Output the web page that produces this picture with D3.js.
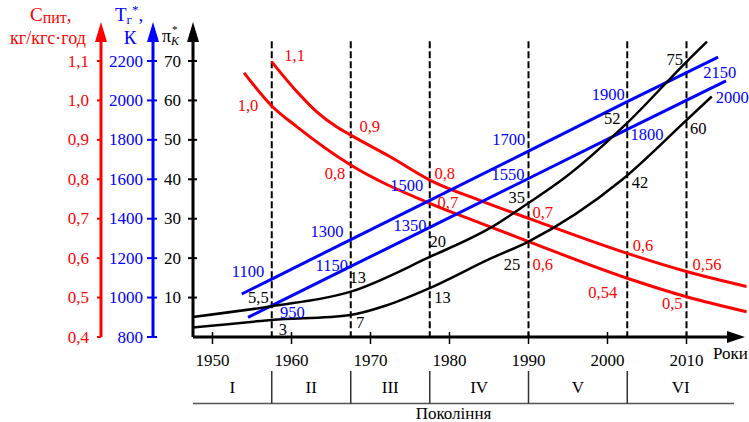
<!DOCTYPE html>
<html>
<head>
<meta charset="utf-8">
<script src="https://cdn.jsdelivr.net/npm/d3@7"></script>
<style>
  body { margin: 0; background: #fff; }
  svg text { font-family: "Liberation Serif", "DejaVu Serif", "Times New Roman", serif; }
</style>
</head>
<body>
<div id="chart"></div>
<script>
// year, value pairs
var redUpper = [[1957.5, 1.098], [1960.7, 1.022], [1963.2, 0.971], [1965.7, 0.933], [1967.5, 0.912], [1972.5, 0.857],
  [1977.5, 0.798], [1983.9, 0.746], [1990, 0.701], [2002.5, 0.612], [2010, 0.566], [2017.6, 0.528]];
var redLower = [[1954.0, 1.07], [1957.5, 0.986], [1960.7, 0.933], [1967.5, 0.836], [1977.5, 0.739], [1983.9, 0.689],
  [1990, 0.642], [2002.5, 0.549], [2010, 0.502], [2017.6, 0.464]];
var blueUpper = [[1953.7, 1018], [1957.5, 1094], [1967.5, 1294], [1977.5, 1493], [1990, 1743], [2002.5, 1994], [2014.0, 2220]];
var blueLower = [[1954.5, 900], [1957.5, 959], [1967.5, 1158], [1977.5, 1356], [1990, 1604], [2002.5, 1853], [2015.0, 2099]];
var piUpper = [[1947.5, 5.1], [1957.5, 7.8], [1967.5, 11.5], [1977.5, 20.3], [1985.1, 27.6], [1990, 34], [1994.2, 39.8],
  [2002.5, 54.3], [2010, 69.8], [2012.6, 74.9]];
var piLower = [[1947.5, 2.4], [1957.5, 4.3], [1967.5, 5.6], [1972.0, 8.0], [1977.5, 12.4], [1985.1, 19.8], [1990, 24.2],
  [2001.8, 39.8], [2010, 55], [2013.2, 61]];

var redTicks = [0.4, 0.5, 0.6, 0.7, 0.8, 0.9, 1.0, 1.1];
var blueTicks = [800, 1000, 1200, 1400, 1600, 1800, 2000, 2200];
var piTicks = [10, 20, 30, 40, 50, 60, 70];
var yearTicks = [1950, 1960, 1970, 1980, 1990, 2000, 2010];
var genBounds = [1957.5, 1967.5, 1977.5, 1990, 2002.5, 2010];
var generations = ["I", "II", "III", "IV", "V", "VI"];

// [text, year, value]
var redLabels = [["1,1", 1960.4, 1.115], ["1,0", 1954.5, 0.986], ["0,9", 1969.9, 0.933], ["0,8", 1965.5, 0.814],
  ["0,8", 1979.4, 0.814], ["0,7", 1979.8, 0.740], ["0,7", 1991.8, 0.715], ["0,6", 1991.8, 0.583],
  ["0,6", 2004.5, 0.631], ["0,54", 1999.4, 0.512], ["0,56", 2012.6, 0.583], ["0,5", 2008.2, 0.486]];
var blueLabels = [["1100", 1954.5, 1130], ["1300", 1964.5, 1333], ["1500", 1974.6, 1571], ["1700", 1987.5, 1804],
  ["1900", 2000.1, 2028], ["2150", 2014.2, 2144], ["950", 1960.1, 922], ["1150", 1965.1, 1165],
  ["1350", 1975.0, 1368], ["1550", 1987.4, 1622], ["1800", 2005.0, 1825], ["2000", 2015.8, 2017]];
var piLabels = [["5,5", 1955.8, 10.1], ["3", 1958.9, 1.8], ["13", 1968.4, 15.0], ["7", 1968.7, 3.6],
  ["20", 1978.5, 24.1], ["13", 1979.1, 10.1], ["35", 1988.5, 35.5], ["25", 1987.9, 18.3],
  ["52", 2000.6, 55.3], ["42", 2004.1, 39.1], ["75", 2008.5, 70.5], ["60", 2011.5, 52.8]];

var W = 749, H = 422;
var svg = d3.select("#chart").append("svg").attr("width", W).attr("height", H)
  .attr("font-family", "'Liberation Serif', 'DejaVu Serif', serif");

var x = d3.scaleLinear().domain([1950, 2010]).range([212.5, 686.5]);
var yC = d3.scaleLinear().domain([0.4, 1.1]).range([337, 61]);
var yT = d3.scaleLinear().domain([800, 2200]).range([337, 61]);
var yP = d3.scaleLinear().domain([0, 70]).range([337, 61]);

var axRed = 101, axBlue = 153, axBlack = 193, baseY = 337, xEnd = 745;
var comma = function (v) { return d3.format(".1f")(v).replace(".", ","); };

// dashed generation lines
svg.selectAll(".gen").data(genBounds).enter().append("line")
  .attr("x1", function (d) { return x(d); }).attr("x2", function (d) { return x(d); })
  .attr("y1", yP(75)).attr("y2", baseY)
  .attr("stroke", "#000").attr("stroke-width", 2).attr("stroke-dasharray", "7,3");

// curves
var line = function (ys, curve) {
  return d3.line().x(function (d) { return x(d[0]); }).y(function (d) { return ys(d[1]); }).curve(curve);
};
var series = [
  [redUpper, yC, "#ff0000", d3.curveMonotoneX, 3],
  [redLower, yC, "#ff0000", d3.curveMonotoneX, 3],
  [blueUpper, yT, "#0000ff", d3.curveLinear, 3],
  [blueLower, yT, "#0000ff", d3.curveLinear, 3],
  [piUpper, yP, "#000", d3.curveMonotoneX, 2.5],
  [piLower, yP, "#000", d3.curveMonotoneX, 2.5]
];
series.forEach(function (s) {
  svg.append("path").datum(s[0]).attr("d", line(s[1], s[3]))
    .attr("fill", "none").attr("stroke", s[2]).attr("stroke-width", s[4]);
});

// in-plot labels
function labels(data, ys, color) {
  svg.append("g").selectAll("text").data(data).enter().append("text")
    .attr("x", function (d) { return x(d[1]); })
    .attr("y", function (d) { return ys(d[2]); })
    .attr("text-anchor", "middle").attr("dominant-baseline", "central")
    .attr("font-size", 16.5).attr("fill", color)
    .text(function (d) { return d[0]; });
}
labels(redLabels, yC, "#ff0000");
labels(blueLabels, yT, "#0000ff");
labels(piLabels, yP, "#000");

// vertical axes
function vAxis(ax, ys, ticks, color, fmt, tx0, tx1, labelX) {
  var g = svg.append("g");
  g.append("line").attr("x1", ax).attr("x2", ax).attr("y1", baseY).attr("y2", 40)
    .attr("stroke", color).attr("stroke-width", 3);
  g.append("path").attr("d", "M" + (ax - 6) + ",42L" + ax + ",22L" + (ax + 6) + ",42Z").attr("fill", color);
  g.selectAll(".t").data(ticks).enter().append("line")
    .attr("x1", ax + tx0).attr("x2", ax + tx1)
    .attr("y1", function (d) { return ys(d); }).attr("y2", function (d) { return ys(d); })
    .attr("stroke", color).attr("stroke-width", 2);
  g.selectAll(".l").data(ticks).enter().append("text")
    .attr("x", labelX).attr("y", function (d) { return ys(d); })
    .attr("text-anchor", "end").attr("dominant-baseline", "central")
    .attr("font-size", 17).attr("fill", color)
    .text(fmt);
}
vAxis(axRed, yC, redTicks, "#ff0000", comma, -4, 0, 89);
vAxis(axBlue, yT, blueTicks, "#0000ff", function (d) { return d; }, -6, 4, 143);
vAxis(axBlack, yP, piTicks, "#000", function (d) { return d; }, -5, 4, 181);

// axis titles
var t1 = svg.append("text").attr("x", 30).attr("y", 21).attr("font-size", 19).attr("fill", "#ff0000");
t1.append("tspan").text("С");
t1.append("tspan").attr("font-size", 16).attr("dy", 2).text("пит");
t1.append("tspan").attr("dy", -2).text(",");
svg.append("text").attr("x", 48).attr("y", 44).attr("text-anchor", "middle").attr("font-size", 18)
  .attr("fill", "#ff0000").text("кг/кгс·год");
var t2 = svg.append("text").attr("x", 115).attr("y", 21).attr("font-size", 19).attr("fill", "#0000ff");
t2.append("tspan").text("Т");
t2.append("tspan").attr("font-size", 13).attr("dy", 3).text("г");
t2.append("tspan").attr("font-size", 13).attr("dy", -10).text("*");
t2.append("tspan").attr("dy", 7).text(",");
svg.append("text").attr("x", 130).attr("y", 44).attr("text-anchor", "middle").attr("font-size", 19)
  .attr("fill", "#0000ff").text("К");
svg.append("text").attr("x", 162).attr("y", 42).attr("font-size", 18).text("π");
svg.append("text").attr("x", 172).attr("y", 33).attr("font-size", 11).text("*");
svg.append("text").attr("x", 171).attr("y", 45).attr("font-size", 12).attr("font-style", "italic").text("K");

// x axis
svg.append("line").attr("x1", axBlack).attr("x2", xEnd - 10).attr("y1", baseY).attr("y2", baseY)
  .attr("stroke", "#000").attr("stroke-width", 3);
svg.append("path").attr("d", "M" + (xEnd - 18) + "," + (baseY - 6) + "L" + xEnd + "," + baseY + "L" + (xEnd - 18) + "," + (baseY + 6) + "Z");
svg.selectAll(".xt").data(yearTicks).enter().append("line")
  .attr("x1", function (d) { return x(d); }).attr("x2", function (d) { return x(d); })
  .attr("y1", baseY - 5).attr("y2", baseY + 7).attr("stroke", "#000").attr("stroke-width", 1.5);
svg.selectAll(".xl").data(yearTicks).enter().append("text")
  .attr("x", function (d) { return x(d); }).attr("y", 366).attr("text-anchor", "middle")
  .attr("font-size", 17).text(function (d) { return d; });
svg.append("text").attr("x", 713).attr("y", 359).attr("font-size", 17).text("Роки");

// generations table
var tableStart = x.invert(axBlack), tableEnd = x.invert(734);
var edges = [tableStart].concat(genBounds.slice(0, 5), [tableEnd]);
svg.append("line").attr("x1", x(tableStart)).attr("x2", x(tableEnd)).attr("y1", 403.5).attr("y2", 403.5)
  .attr("stroke", "#555").attr("stroke-width", 1.5);
svg.selectAll(".div").data(genBounds.slice(0, 5)).enter().append("line")
  .attr("x1", function (d) { return x(d); }).attr("x2", function (d) { return x(d); })
  .attr("y1", 371).attr("y2", 403.5).attr("stroke", "#333").attr("stroke-width", 1.5);
svg.selectAll(".gl").data(generations).enter().append("text")
  .attr("x", function (d, i) { return (x(edges[i]) + x(edges[i + 1])) / 2; })
  .attr("y", 393).attr("text-anchor", "middle").attr("font-size", 17)
  .text(function (d) { return d; });
svg.append("text").attr("x", 453.5).attr("y", 419).attr("text-anchor", "middle").attr("font-size", 17)
  .text("Покоління");
</script>
</body>
</html>
